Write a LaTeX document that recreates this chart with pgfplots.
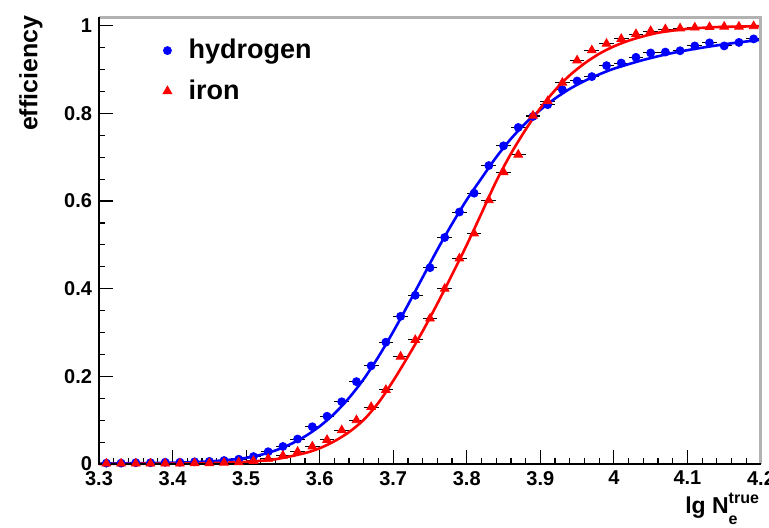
\documentclass[border=0pt]{standalone}
\usepackage{fontspec}
\setmainfont{Liberation Sans}
\usepackage{pgfplots}
\pgfplotsset{compat=1.18}
\usepackage{pgfplotstable}

\pgfplotstableread{
x y
3.31 0.002
3.33 0.002
3.35 0.003
3.37 0.003
3.39 0.004
3.41 0.004
3.43 0.005
3.45 0.006
3.47 0.008
3.49 0.011
3.51 0.017
3.53 0.028
3.55 0.040
3.57 0.057
3.59 0.085
3.61 0.109
3.63 0.142
3.65 0.188
3.67 0.224
3.69 0.278
3.71 0.337
3.73 0.385
3.75 0.448
3.77 0.517
3.79 0.575
3.81 0.618
3.83 0.681
3.85 0.726
3.87 0.768
3.89 0.793
3.91 0.820
3.93 0.854
3.95 0.874
3.97 0.884
3.99 0.909
4.01 0.915
4.03 0.928
4.05 0.938
4.07 0.940
4.09 0.943
4.11 0.954
4.13 0.961
4.15 0.954
4.17 0.962
4.19 0.970
}\hydrogen

\pgfplotstableread{
x y
3.31 0.001
3.33 0.001
3.35 0.001
3.37 0.001
3.39 0.001
3.41 0.001
3.43 0.002
3.45 0.002
3.47 0.003
3.49 0.004
3.51 0.007
3.53 0.012
3.55 0.019
3.57 0.028
3.59 0.040
3.61 0.055
3.63 0.077
3.65 0.100
3.67 0.130
3.69 0.169
3.71 0.245
3.73 0.283
3.75 0.332
3.77 0.400
3.79 0.469
3.81 0.526
3.83 0.602
3.85 0.666
3.87 0.706
3.89 0.795
3.91 0.828
3.93 0.870
3.95 0.921
3.97 0.944
3.99 0.959
4.01 0.970
4.03 0.981
4.05 0.988
4.07 0.992
4.09 0.994
4.11 0.996
4.13 0.997
4.15 0.998
4.17 0.998
4.19 0.999
}\iron

\pgfplotstableread{
x y
3.30 0.001
3.40 0.003
3.45 0.006
3.48 0.010
3.50 0.014
3.52 0.021
3.54 0.031
3.56 0.045
3.58 0.063
3.60 0.086
3.62 0.115
3.64 0.151
3.66 0.194
3.68 0.245
3.70 0.302
3.72 0.363
3.74 0.426
3.76 0.489
3.78 0.548
3.80 0.603
3.82 0.652
3.84 0.700
3.86 0.742
3.88 0.778
3.90 0.808
3.92 0.834
3.94 0.856
3.96 0.874
3.98 0.889
4.00 0.902
4.04 0.922
4.08 0.938
4.12 0.950
4.16 0.960
4.20 0.968
}\hydrogenfit

\pgfplotstableread{
x y
3.30 0.000
3.40 0.001
3.45 0.002
3.50 0.005
3.54 0.011
3.58 0.025
3.60 0.036
3.62 0.052
3.64 0.073
3.66 0.101
3.68 0.140
3.70 0.190
3.72 0.245
3.74 0.303
3.76 0.366
3.78 0.432
3.80 0.500
3.82 0.572
3.84 0.645
3.86 0.708
3.88 0.763
3.90 0.812
3.92 0.853
3.94 0.887
3.96 0.914
3.98 0.936
4.00 0.953
4.02 0.966
4.04 0.976
4.06 0.984
4.08 0.989
4.10 0.993
4.14 0.997
4.20 0.999
}\ironfit

\begin{document}
\begin{tikzpicture}
\path[use as bounding box] (-49.5pt,-31.5pt) rectangle (335pt,232pt);
\begin{axis}[
  at={(0,0)}, anchor=south west,
  scale only axis, width=331pt, height=223.5pt,
  xmin=3.3, xmax=4.2, ymin=0, ymax=1.02,
  xtick={3.3,3.4,3.5,3.6,3.7,3.8,3.9,4.0,4.1,4.2},
  ytick={0,0.2,0.4,0.6,0.8,1},
  minor x tick num=4, minor y tick num=3,
  xtick pos=left, ytick pos=left, tick align=inside,
  major tick length=7pt, minor tick length=3pt,
  tick style={black, line width=0.6pt},
  axis line style={draw=none},
  ticklabel style={font=\bfseries\fontsize{10}{12}\selectfont},
  /pgf/number format/assume math mode=true,
  clip=false,
  xlabel={lg N\makebox[0pt][l]{\raisebox{5pt}{\fontsize{8}{8}\selectfont true}}\raisebox{-5.5pt}{\fontsize{8}{8}\selectfont e}},
  xlabel style={at={(axis description cs:0.885,-0.1096)}, anchor=base west, inner sep=0pt, font=\bfseries\fontsize{11.5}{13}\selectfont},
  ylabel={efficiency},
  ylabel style={at={(axis description cs:-0.103,1.004)}, anchor=east, inner sep=0pt, font=\bfseries\fontsize{12.5}{14}\selectfont},
  legend style={draw=none, fill=none, at={(axis description cs:0.077,0.96)}, anchor=north west,
    font=\bfseries\fontsize{13.5}{15}\selectfont, row sep=5pt, inner sep=0pt},
  legend cell align=left,
  legend image code/.code={\path[draw=none,fill=none] (0cm,0cm) -- (0.6cm,0cm); \draw[#1] plot coordinates {(0.3cm,0cm)};},
]
\addplot[only marks, mark=*, blue, mark size=2pt,
  error bars/.cd, x dir=both, x fixed=0.01, error mark=none,
  error bar style={black, line width=0.5pt}] table[x=x,y=y] {\hydrogen};
\addlegendentry{hydrogen}
\addplot[only marks, mark=triangle*, red, mark size=2.5pt,
  error bars/.cd, x dir=both, x fixed=0.01, error mark=none,
  error bar style={black, line width=0.5pt}] table[x=x,y=y] {\iron};
\addlegendentry{iron}
\addplot[blue, line width=1.3pt, smooth, forget plot] table[x=x,y=y] {\hydrogenfit};
\addplot[red, line width=1.3pt, smooth, forget plot] table[x=x,y=y] {\ironfit};
\draw[gray!60, line width=1.5pt] (rel axis cs:0,1) -- (rel axis cs:1,1) -- (rel axis cs:1,0);
\draw[black, line width=1pt] (rel axis cs:0,1) -- (rel axis cs:0,0) -- (rel axis cs:1,0);
\end{axis}
\end{tikzpicture}
\end{document}
